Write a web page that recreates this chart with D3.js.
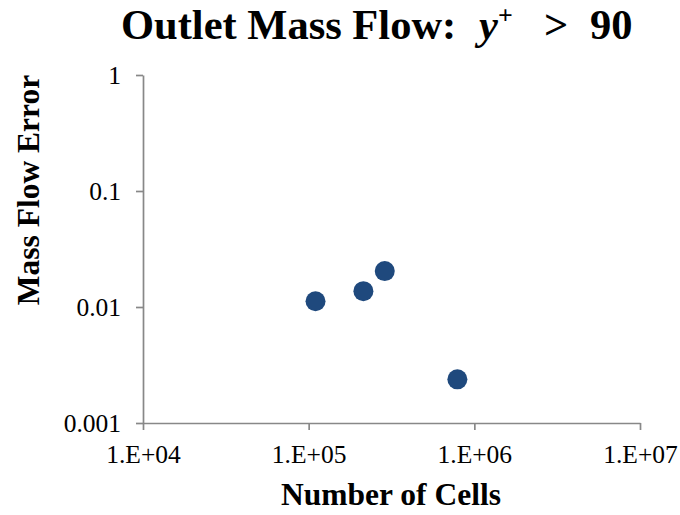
<!DOCTYPE html>
<html>
<head>
<meta charset="utf-8">
<script src="https://cdn.jsdelivr.net/npm/d3@7"></script>
<style>
  body { margin: 0; background: #fff; }
  text { font-family: "Liberation Serif", "Times New Roman", serif; }
</style>
</head>
<body>
<div id="chart"></div>
<script>
// data
const cells = [1.10e5, 2.14e5, 2.88e5, 7.9e5];
const massFlowError = [0.0112, 0.0137, 0.0204, 0.00238];
const xTicks = [1e4, 1e5, 1e6, 1e7];
const yTicks = [0.001, 0.01, 0.1, 1];

const width = 680, height = 515;
const margin = {left: 143, right: 40, top: 75, bottom: 92};

const svg = d3.select("#chart").append("svg")
  .attr("width", width)
  .attr("height", height);

const x = d3.scaleLog().domain([1e4, 1e7]).range([margin.left, width - margin.right]);
const y = d3.scaleLog().domain([0.001, 1]).range([height - margin.bottom, margin.top]);

// x axis
const xAxis = svg.append("g")
  .attr("transform", "translate(0," + (height - margin.bottom) + ")")
  .call(d3.axisBottom(x).tickValues(xTicks).tickSize(7).tickSizeOuter(0)
    .tickFormat(d => "1.E+" + String(Math.round(Math.log10(d))).padStart(2, "0")));
xAxis.select(".domain").attr("stroke", "#888").attr("stroke-width", 1.7);
xAxis.selectAll(".tick line").attr("stroke", "#888").attr("stroke-width", 1.7);
xAxis.selectAll(".tick text")
  .attr("font-size", 25.5).attr("fill", "#000")
  .attr("y", 40).attr("dy", 0);

// y axis
const yAxis = svg.append("g")
  .attr("transform", "translate(" + margin.left + ",0)")
  .call(d3.axisLeft(y).tickValues(yTicks).tickSize(7).tickSizeOuter(0)
    .tickFormat(d => String(d)));
yAxis.select(".domain").attr("stroke", "#888").attr("stroke-width", 1.7);
yAxis.selectAll(".tick line").attr("stroke", "#888").attr("stroke-width", 1.7);
yAxis.selectAll(".tick text").attr("font-size", 25.5).attr("fill", "#000").attr("x", -22);

// points
svg.append("g").selectAll("circle")
  .data(cells.map((c, i) => ({c: c, e: massFlowError[i]})))
  .enter()
  .append("circle")
  .attr("cx", d => x(d.c))
  .attr("cy", d => y(d.e))
  .attr("r", 10)
  .attr("fill", "#1f497d");

// title, pieces placed by hand like the Excel original
const title = svg.append("text")
  .attr("y", 39)
  .attr("font-size", 42.5)
  .attr("font-weight", "bold");
title.append("tspan").attr("x", 121).text("Outlet Mass Flow:");
title.append("tspan").attr("x", 479).attr("font-style", "italic").text("y");
title.append("tspan").attr("font-size", 26).attr("dy", -15).text("+");
title.append("tspan").attr("x", 544).attr("dy", 15).text(">");
title.append("tspan").attr("x", 590).text("90");

// axis titles
svg.append("text")
  .attr("x", 391)
  .attr("y", 505)
  .attr("text-anchor", "middle")
  .attr("font-size", 31.5)
  .attr("font-weight", "bold")
  .text("Number of Cells");

svg.append("text")
  .attr("transform", "translate(39,190) rotate(-90)")
  .attr("text-anchor", "middle")
  .attr("font-size", 31.5)
  .attr("font-weight", "bold")
  .text("Mass Flow Error");
</script>
</body>
</html>
